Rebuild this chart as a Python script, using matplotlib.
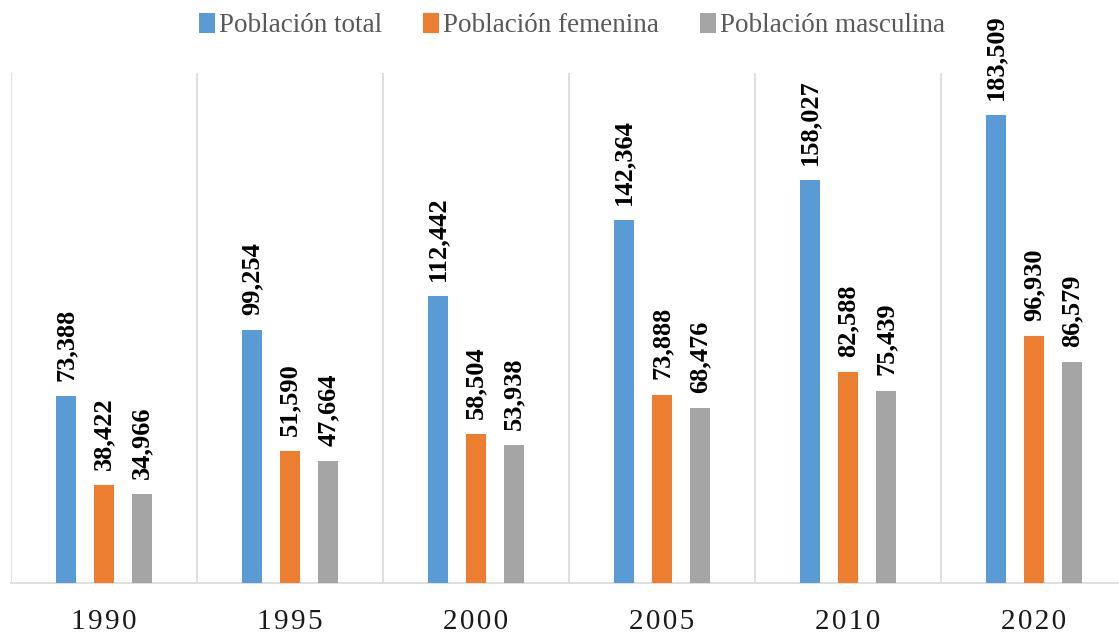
import numpy as np
import matplotlib.pyplot as plt

years = ['1990', '1995', '2000', '2005', '2010', '2020']
total = [73388, 99254, 112442, 142364, 158027, 183509]
femenina = [38422, 51590, 58504, 73888, 82588, 96930]
masculina = [34966, 47664, 53938, 68476, 75439, 86579]

series = [('Población total', total, '#5B9BD5'),
          ('Población femenina', femenina, '#ED7D31'),
          ('Población masculina', masculina, '#A5A5A5')]

plt.rcParams['font.family'] = ['Liberation Serif', 'DejaVu Serif']

fig = plt.figure(figsize=(11.19, 6.34), dpi=100)
ax = fig.add_axes([11 / 1119, 51 / 634, 1116 / 1119, 510 / 634])

x = np.arange(len(years)) + 0.5
width = 0.108
offsets = [-0.204, 0.0, 0.204]

for (name, vals, color), off in zip(series, offsets):
    bars = ax.bar(x + off, vals, width, color=color, label=name, zorder=3)
    for b, v in zip(bars, vals):
        ax.annotate(f'{v:,}', (b.get_x() + b.get_width() / 2, v),
                    xytext=(0, 11), textcoords='offset points',
                    rotation=90, ha='center', va='bottom',
                    fontsize=19, fontweight='bold', color='#000000')

# spaced-out year labels like the original
spaced = ['\u200a'.join(y) for y in years]
ax.set_xlim(0, 6)
ax.set_ylim(0, 200000)
ax.set_xticks(x)
ax.set_xticklabels(spaced, fontsize=21, color='#1a1a1a')
ax.set_xticks(np.arange(7), minor=True)
ax.tick_params(axis='x', which='both', length=0, pad=19)
ax.grid(axis='x', which='minor', color='#D9D9D9', linewidth=1.2, zorder=0)
ax.set_yticks([])
for side in ['left', 'right', 'top']:
    ax.spines[side].set_visible(False)
ax.spines['bottom'].set_color('#D9D9D9')
ax.spines['bottom'].set_linewidth(1.2)

fig.legend(loc='upper center', bbox_to_anchor=(0.511, 1.018), ncol=3,
           frameon=False, fontsize=19.5, handlelength=0.6, handleheight=0.75,
           handletextpad=0.15, columnspacing=1.5, labelcolor='#595959')

fig.savefig('out.png', dpi=100)
